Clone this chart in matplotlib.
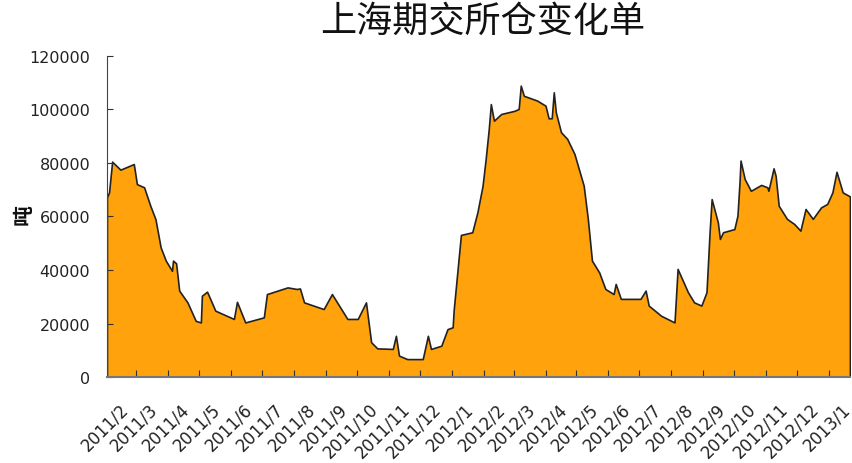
import datetime as dt
import matplotlib
matplotlib.use("Agg")
from matplotlib import pyplot as plt

# warehouse stock readings (tons)
dates = ["2011-02-01", "2011-02-03", "2011-02-06", "2011-02-14", "2011-02-27", "2011-03-02",
         "2011-03-09", "2011-03-15", "2011-03-20", "2011-03-25", "2011-03-30", "2011-04-05",
         "2011-04-06", "2011-04-09", "2011-04-12", "2011-04-20", "2011-04-28", "2011-05-03",
         "2011-05-04", "2011-05-09", "2011-05-17", "2011-06-04", "2011-06-07", "2011-06-15",
         "2011-07-03", "2011-07-06", "2011-07-26", "2011-08-04", "2011-08-07", "2011-08-11",
         "2011-08-30", "2011-09-07", "2011-09-22", "2011-10-02", "2011-10-10", "2011-10-15",
         "2011-10-21", "2011-11-05", "2011-11-08", "2011-11-11", "2011-11-19", "2011-12-04",
         "2011-12-09", "2011-12-12", "2011-12-22", "2011-12-28", "2012-01-02", "2012-01-03",
         "2012-01-10", "2012-01-21", "2012-01-26", "2012-01-31", "2012-02-03", "2012-02-06",
         "2012-02-08", "2012-02-11", "2012-02-18", "2012-03-02", "2012-03-06", "2012-03-08",
         "2012-03-11", "2012-03-24", "2012-04-01", "2012-04-04", "2012-04-07", "2012-04-09",
         "2012-04-11", "2012-04-16", "2012-04-22", "2012-04-29", "2012-05-08", "2012-05-12",
         "2012-05-16", "2012-05-23", "2012-05-29", "2012-06-06", "2012-06-08", "2012-06-13",
         "2012-07-02", "2012-07-07", "2012-07-10", "2012-07-22", "2012-08-04", "2012-08-07",
         "2012-08-17", "2012-08-23", "2012-08-30", "2012-09-04", "2012-09-07", "2012-09-09",
         "2012-09-15", "2012-09-17", "2012-09-20", "2012-10-01", "2012-10-04", "2012-10-06",
         "2012-10-07", "2012-10-11", "2012-10-17", "2012-10-27", "2012-11-02", "2012-11-03",
         "2012-11-08", "2012-11-10", "2012-11-13", "2012-11-21", "2012-11-28", "2012-12-04",
         "2012-12-09", "2012-12-16", "2012-12-24", "2012-12-30", "2013-01-04", "2013-01-08",
         "2013-01-14", "2013-01-21"]
stock = [67200, 69000, 80500, 77500, 79600, 72100,
         70900, 64000, 59000, 48500, 43500, 39700,
         43500, 42500, 32300, 27900, 21000, 20400,
         30400, 31900, 24800, 21700, 28100, 20400,
         22300, 31000, 33500, 32900, 33100, 27900,
         25400, 31000, 21700, 21700, 27900, 13000,
         10700, 10500, 15400, 8000, 6700, 6700,
         15400, 10500, 11700, 17900, 18600, 25000,
         53100, 54100, 61600, 71500, 81500, 92700,
         102000, 95800, 98300, 99500, 100200, 108900,
         105100, 103300, 101400, 96700, 96700, 106400,
         98900, 91500, 89000, 83400, 71500, 59100,
         43500, 39100, 32900, 31000, 34800, 29200,
         29200, 32300, 26700, 22900, 20400, 40400,
         31700, 27900, 26700, 31700, 54100, 66500,
         57800, 51600, 54100, 55300, 60300, 72800,
         80900, 74000, 69600, 71800, 70900, 69600,
         78000, 75200, 64000, 59100, 57200, 54700,
         62800, 59100, 63400, 64700, 69000, 76700,
         69000, 67500]

month_labels = ["2011/2", "2011/3", "2011/4", "2011/5", "2011/6", "2011/7", "2011/8",
                "2011/9", "2011/10", "2011/11", "2011/12", "2012/1", "2012/2", "2012/3",
                "2012/4", "2012/5", "2012/6", "2012/7", "2012/8", "2012/9", "2012/10",
                "2012/11", "2012/12", "2013/1"]

x = [dt.datetime.strptime(d, "%Y-%m-%d") for d in dates]

fig = plt.figure(figsize=(8.53, 4.64), dpi=100)
ax = fig.add_axes([0.1254, 0.1853, 0.871, 0.692])

ax.fill_between(x, stock, 0, facecolor="#FFA20C", edgecolor="#222222", linewidth=1.2)

ax.set_xlim(x[0], x[-1])
ax.set_ylim(0, 120000)
ax.set_yticks(range(0, 120001, 20000))
ax.tick_params(axis="y", direction="in", length=4, labelsize=11.5, colors="#333333",
               labelcolor="#222222", pad=12)

# month boundaries as ticks, labels sit inside each month
month_starts = [dt.datetime(2011 + (1 + i) // 12, (1 + i) % 12 + 1, 1) for i in range(24)]
ax.set_xticks(month_starts[1:])
ax.set_xticklabels([])
ax.tick_params(axis="x", which="major", direction="in", length=5, colors="#333333")
label_pos = [m + dt.timedelta(days=12) for m in month_starts]
ax.set_xticks(label_pos, minor=True)
ax.set_xticklabels(month_labels, minor=True, rotation=45, ha="right", va="top",
                   rotation_mode="anchor", fontsize=12, color="#222222")
ax.tick_params(axis="x", which="minor", length=0, pad=16)

for s in ["top", "right"]:
    ax.spines[s].set_visible(False)
ax.spines["left"].set_color("#444444")
ax.spines["bottom"].set_color("#777777")
ax.spines["bottom"].set_linewidth(1.5)

fig.text(483 / 853, 1 - 22 / 464, "上海期交所仓变化单", fontsize=26,
         family=["Noto Sans CJK SC", "DejaVu Sans"], ha="center", va="center", color="#111111")
fig.text(23 / 853, 1 - 215 / 464, "吨", fontsize=15, fontweight="bold", rotation=90,
         family=["Noto Sans CJK SC", "DejaVu Sans"], ha="center", va="center", color="#111111")

fig.savefig("out.png", dpi=100)
